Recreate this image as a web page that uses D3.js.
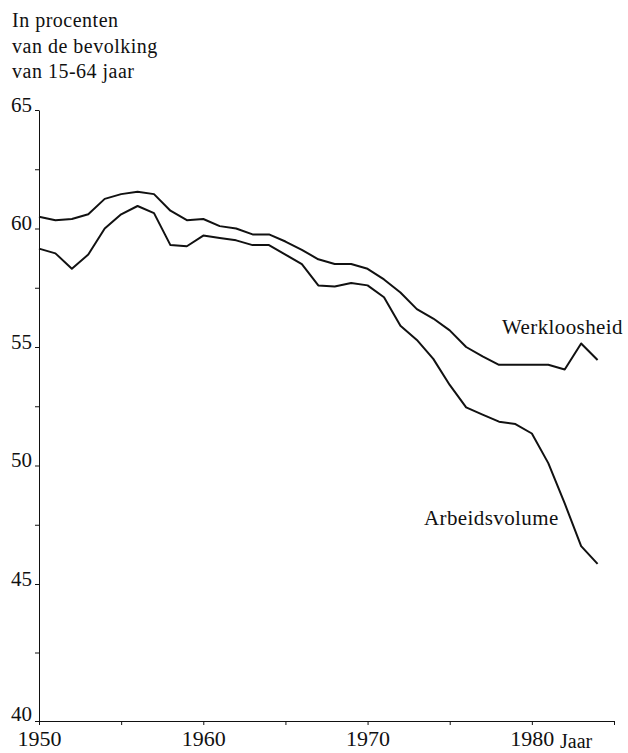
<!DOCTYPE html>
<html lang="nl">
<head>
  <meta charset="UTF-8">
  <title>Arbeidsvolume en werkloosheid</title>
  <script src="https://d3js.org/d3.v7.min.js"></script>
  <style>
    body { margin: 0; background: white; }
    svg text { font-family: "Liberation Serif", "Times New Roman", serif !important; fill: #111; }
  </style>
</head>
<body>
  <div id="chart"></div>
  <script>
    // jaren en waarden (in procenten van de bevolking van 15-64 jaar)
    const years = [1950, 1951, 1952, 1953, 1954, 1955, 1956, 1957, 1958, 1959,
                   1960, 1961, 1962, 1963, 1964, 1965, 1966, 1967, 1968, 1969,
                   1970, 1971, 1972, 1973, 1974, 1975, 1976, 1977, 1978, 1979,
                   1980, 1981, 1982, 1983, 1984];

    // bovenste lijn: arbeidsvolume + werkloosheid
    const werkloosheid = [60.5, 60.35, 60.4, 60.6, 61.25, 61.45, 61.55, 61.45, 60.75, 60.35,
                          60.4, 60.1, 60.0, 59.75, 59.75, 59.45, 59.1, 58.7, 58.5, 58.5,
                          58.3, 57.85, 57.3, 56.6, 56.2, 55.7, 55.0, 54.6, 54.25, 54.25,
                          54.25, 54.25, 54.05, 55.15, 54.45];

    // onderste lijn: arbeidsvolume
    const arbeidsvolume = [59.15, 58.95, 58.3, 58.9, 60.0, 60.6, 60.95, 60.65, 59.3, 59.25,
                           59.7, 59.6, 59.5, 59.3, 59.3, 58.9, 58.5, 57.6, 57.55, 57.7,
                           57.6, 57.1, 55.9, 55.3, 54.5, 53.4, 52.45, 52.15, 51.85, 51.75,
                           51.35, 50.1, 48.4, 46.6, 45.85];

    const yTicks = [40, 42.5, 45, 47.5, 50, 52.5, 55, 57.5, 60, 62.5, 65];
    const xTicks = [1950, 1955, 1960, 1965, 1970, 1975, 1980, 1985];
    const xLabels = [1950, 1960, 1970, 1980];
    const titleLines = ["In procenten", "van de bevolking", "van 15-64 jaar"];

    const width = 628;
    const height = 753;

    const svg = d3.select("#chart")
      .append("svg")
      .attr("width", width)
      .attr("height", height);

    svg.append("rect").attr("width", width).attr("height", height).attr("fill", "white");

    const x = d3.scaleLinear().domain([1950, 1985]).range([39, 614]);
    // in het origineel is het vak 40-45 iets hoger getekend
    const y = d3.scaleLinear().domain([40, 45, 65]).range([721, 584, 110]);

    // y-as
    const yAxis = svg.append("g")
      .attr("transform", `translate(${x(1950)},0)`)
      .call(d3.axisLeft(y).tickValues(yTicks).tickSize(4).tickPadding(3).tickSizeOuter(0)
        .tickFormat(d => Number.isInteger(d / 5) ? d : ""));
    yAxis.selectAll("text")
      .attr("dy", d => d === 40 ? -1 : 1)
      .style("font-size", "21px");

    // x-as
    const xAxis = svg.append("g")
      .attr("transform", `translate(0,${y(40)})`)
      .call(d3.axisBottom(x).tickValues(xTicks).tickSize(4).tickPadding(21).tickSizeOuter(0)
        .tickFormat(d => xLabels.includes(d) ? d : ""));
    xAxis.selectAll("text")
      .attr("dy", 0)
      .style("font-size", "22px");

    svg.selectAll(".domain, .tick line").attr("stroke", "#111");

    // lijnen
    const line = d3.line()
      .x((d, i) => x(years[i]))
      .y(d => y(d));

    [werkloosheid, arbeidsvolume].forEach(serie => {
      svg.append("path")
        .datum(serie)
        .attr("fill", "none")
        .attr("stroke", "#111")
        .attr("stroke-width", 2)
        .attr("stroke-linejoin", "round")
        .attr("d", line);
    });

    // titel linksboven
    svg.append("g")
      .selectAll("text")
      .data(titleLines)
      .enter()
      .append("text")
      .attr("x", 12)
      .attr("y", (d, i) => 27 + i * 25.5)
      .style("font-size", "20px")
      .style("letter-spacing", "0.5px")
      .text(d => d);

    // labels bij de lijnen
    svg.append("text").attr("x", 502).attr("y", 334)
      .style("font-size", "21px").style("letter-spacing", "0.4px")
      .text("Werkloosheid");
    svg.append("text").attr("x", 424).attr("y", 525)
      .style("font-size", "21px").style("letter-spacing", "0.4px")
      .text("Arbeidsvolume");
    svg.append("text").attr("x", 560).attr("y", 748)
      .style("font-size", "20px")
      .text("Jaar");
  </script>
</body>
</html>
